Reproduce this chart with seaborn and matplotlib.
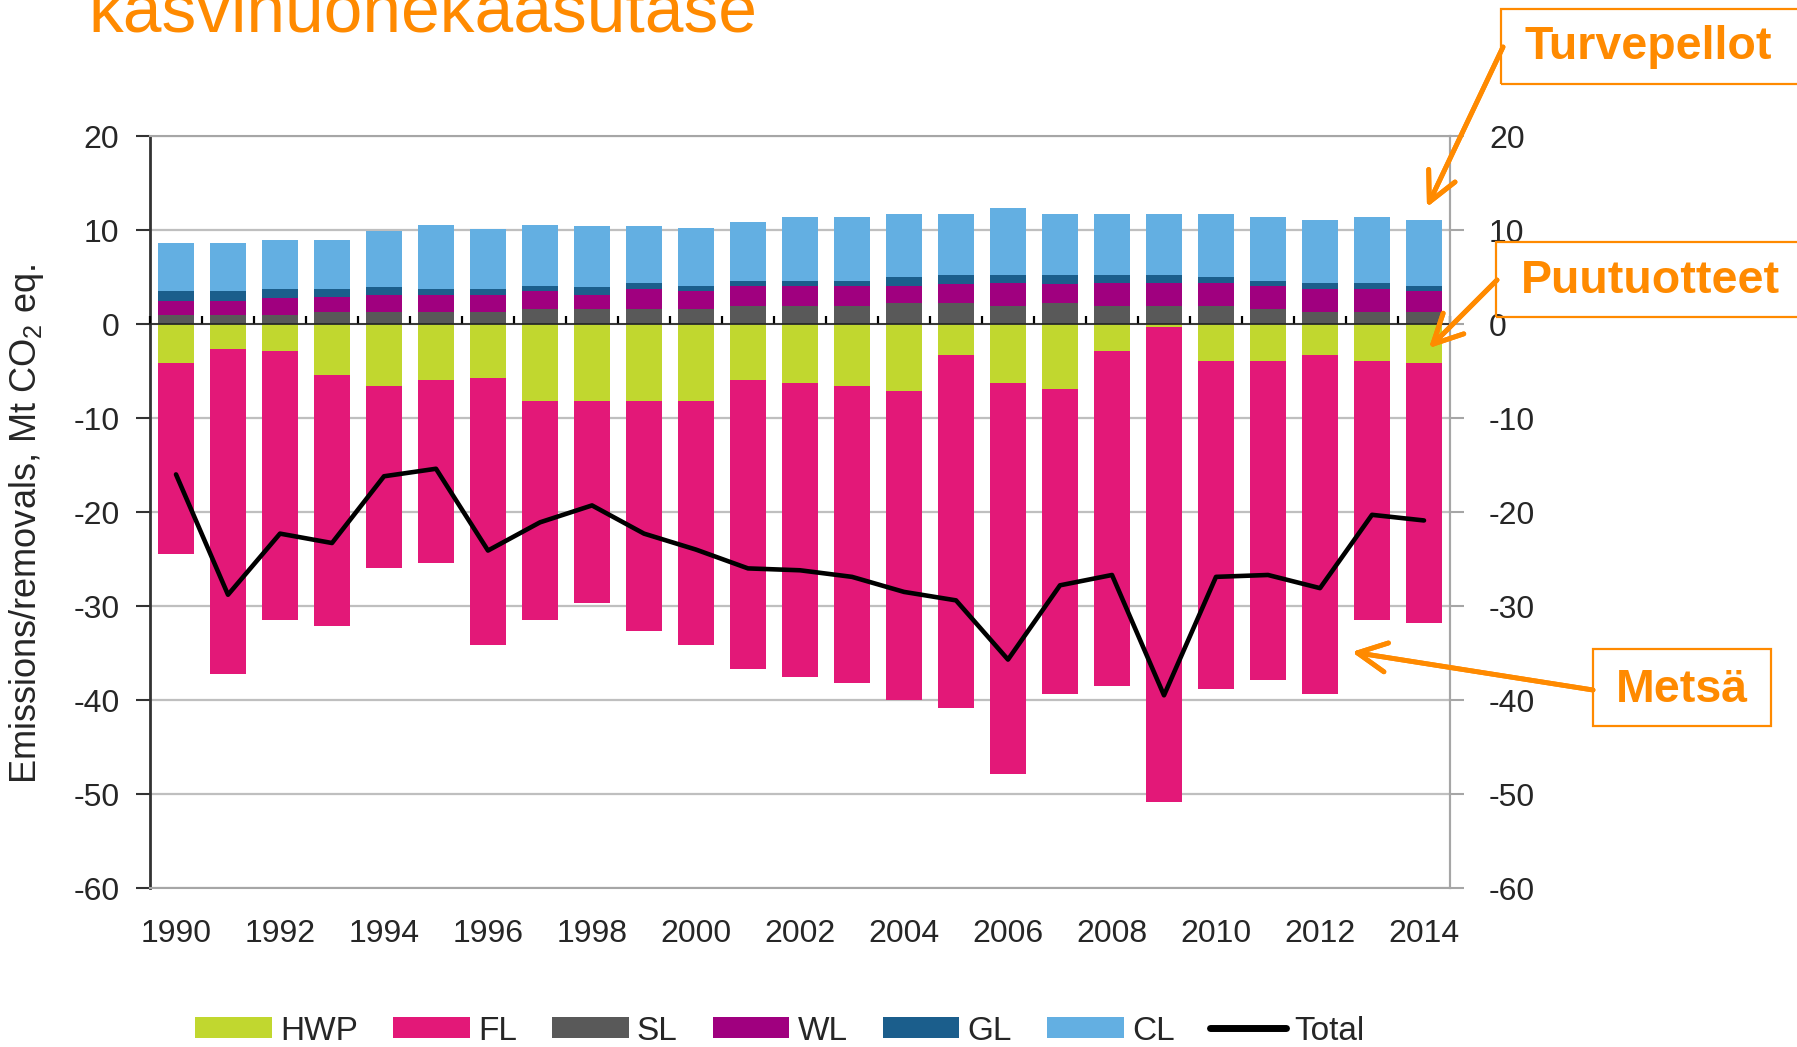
import numpy as np
import pandas as pd
import matplotlib
matplotlib.use("Agg")
import matplotlib.pyplot as plt
import seaborn as sns
from matplotlib.patches import Patch, Rectangle
from matplotlib.lines import Line2D

# ---------------- data ----------------
years = list(range(1990, 2015))
SL = [1.0, 1.0, 1.0, 1.3, 1.3, 1.3, 1.3, 1.6, 1.6, 1.6, 1.6, 1.9, 1.9, 1.9, 2.2,
      2.2, 1.9, 2.2, 1.9, 1.9, 1.9, 1.6, 1.3, 1.3, 1.3]
WL = [1.45, 1.45, 1.8, 1.55, 1.8, 1.8, 1.8, 1.9, 1.5, 2.1, 1.9, 2.1, 2.1, 2.1, 1.8,
      2.1, 2.45, 2.1, 2.45, 2.45, 2.45, 2.4, 2.4, 2.4, 2.2]
GL = [1.05, 1.05, 0.9, 0.9, 0.85, 0.6, 0.6, 0.5, 0.85, 0.65, 0.5, 0.6, 0.6, 0.6, 1.0,
      0.9, 0.9, 0.9, 0.9, 0.9, 0.6, 0.6, 0.65, 0.65, 0.5]
CL = [5.1, 5.1, 5.2, 5.2, 5.9, 6.8, 6.4, 6.5, 6.5, 6.1, 6.2, 6.2, 6.8, 6.8, 6.7,
      6.5, 7.1, 6.5, 6.5, 6.5, 6.7, 6.8, 6.7, 7.0, 7.1]
HWP = [-4.1, -2.7, -2.9, -5.4, -6.6, -6.0, -5.7, -8.2, -8.2, -8.2, -8.2, -6.0, -6.3,
       -6.6, -7.1, -3.3, -6.3, -6.9, -2.9, -0.3, -3.9, -3.9, -3.3, -3.9, -4.1]
FL = [-20.4, -34.5, -28.6, -26.7, -19.4, -19.4, -28.5, -23.3, -21.5, -24.5, -26.0,
      -30.7, -31.3, -31.6, -32.9, -37.6, -41.6, -32.5, -35.6, -50.6, -34.9, -34.0,
      -36.1, -27.6, -27.7]
Total = [-16.0, -28.8, -22.3, -23.3, -16.2, -15.4, -24.1, -21.1, -19.3, -22.3, -24.0,
         -26.0, -26.2, -26.9, -28.5, -29.4, -35.7, -27.8, -26.7, -39.5, -26.9, -26.7,
         -28.1, -20.3, -20.9]
y_ticks = [20, 10, 0, -10, -20, -30, -40, -50, -60]
series_names = ["HWP", "FL", "SL", "WL", "GL", "CL", "Total"]

colors = {
    "HWP": "#C1D72F",
    "FL": "#E31878",
    "SL": "#595959",
    "WL": "#A0007F",
    "GL": "#1B5E8C",
    "CL": "#63AFE2",
}
orange = "#FF8A00"
text_col = "#262626"

# ---------------- style ----------------
sns.set_theme(style="white")
plt.rcParams["font.family"] = ["Liberation Sans", "DejaVu Sans"]
plt.rcParams["mathtext.fontset"] = "custom"
plt.rcParams["mathtext.rm"] = "Liberation Sans"
plt.rcParams["axes.unicode_minus"] = False

W, H = 1797, 1047
fig = plt.figure(figsize=(W / 100, H / 100), dpi=100)
ax = fig.add_axes([150 / W, 1 - 888 / H, 1300 / W, 752 / H])

labels = [str(y) for y in years]
n = len(labels)
df = pd.DataFrame({"year": labels, "SL": SL, "WL": WL, "GL": GL, "CL": CL,
                   "HWP": HWP, "FL": FL, "Total": Total})

# positive stack
bottom = np.zeros(n)
for name in ["SL", "WL", "GL", "CL"]:
    sns.barplot(data=df, x="year", y=name, order=labels, bottom=bottom,
                color=colors[name], saturation=1, width=0.7, errorbar=None,
                linewidth=0, ax=ax, zorder=3)
    bottom = bottom + df[name].to_numpy()

# negative stack
bottom = np.zeros(n)
for name in ["HWP", "FL"]:
    sns.barplot(data=df, x="year", y=name, order=labels, bottom=bottom,
                color=colors[name], saturation=1, width=0.7, errorbar=None,
                linewidth=0, ax=ax, zorder=3)
    bottom = bottom + df[name].to_numpy()

df["pos"] = np.arange(n)
sns.lineplot(data=df, x="pos", y="Total", color="black", lw=3.3, ax=ax,
             sort=False, zorder=6)

ax.set_xlim(-0.5, n - 0.5)
ax.set_ylim(min(y_ticks), max(y_ticks))
ax.set_yticks(y_ticks)
ax.set_xticks(np.arange(0, n, 2))
ax.set_xticklabels(labels[::2])
ax.set_xlabel("")
ax.set_ylabel("")
ax.yaxis.grid(True, color="#BFBFBF", lw=1.6)
ax.xaxis.grid(False)
ax.set_axisbelow(True)

for s in ["top", "right", "bottom"]:
    ax.spines[s].set_color("#A6A6A6")
    ax.spines[s].set_linewidth(1.5)
ax.spines["left"].set_color("#333333")
ax.spines["left"].set_linewidth(2)

ax.tick_params(axis="y", left=True, direction="out", length=10, width=1.5,
               color="#333333", pad=12, labelsize=23, labelcolor=text_col)
ax.tick_params(axis="x", bottom=False, length=0, pad=22, labelsize=23,
               labelcolor=text_col)

# zero line with category boundary ticks
ymin, ymax = ax.get_ylim()
zero_frac = (0 - ymin) / (ymax - ymin)
sec = ax.secondary_xaxis(zero_frac)
sec.set_xticks(np.arange(n + 1) - 0.5)
sec.set_xticklabels([])
sec.tick_params(direction="out", length=6, width=1.6, color="black")
sec.spines["bottom"].set_color("black")
sec.spines["bottom"].set_linewidth(2.6)
sec.set_zorder(10)

# right axis
ax2 = ax.twinx()
ax2.set_ylim(ymin, ymax)
ax2.set_yticks(y_ticks)
for s in ["top", "left", "bottom"]:
    ax2.spines[s].set_visible(False)
ax2.spines["right"].set_color("#A6A6A6")
ax2.spines["right"].set_linewidth(1.5)
ax2.tick_params(axis="y", right=True, direction="out", length=10, width=1.5,
                color="#A6A6A6", pad=18, labelsize=23, labelcolor=text_col)
ax2.grid(False)

# y label
fig.text(27 / W, 1 - 524 / H, r"Emissions/removals, Mt CO$_{\mathrm{2}}$ eq.",
         rotation=90, ha="center", va="center", fontsize=26, color=text_col)

# title (partially cut off at the top, as in the slide)
fig.text(88 / W, 1 - 32 / H, "kasvihuonekaasutase", color=orange, fontsize=50,
         ha="left", va="baseline")

# legend
handles = [Patch(facecolor=colors[k], edgecolor="none") for k in series_names[:6]]
handles.append(Line2D([0], [0], color="black", lw=5, solid_capstyle="round"))
fig.legend(handles, series_names, loc="center", bbox_to_anchor=(780 / W, 1 - 1031 / H),
           ncol=7, frameon=False, fontsize=24, handlelength=2.3, handleheight=0.58,
           handletextpad=0.25, columnspacing=1.05, labelcolor=text_col)

# callout boxes
def box(x0, y0, x1, y1):
    fig.add_artist(Rectangle((x0 / W, 1 - y1 / H), (x1 - x0) / W, (y1 - y0) / H,
                             transform=fig.transFigure, fill=False,
                             edgecolor=orange, lw=1.6, zorder=20))

box(1501, 9, 1800, 84)
box(1496, 242, 1800, 317)
box(1593, 649, 1771, 726)

fig.text(1648 / W, 1 - 47 / H, "Turvepellot", color=orange, fontsize=33.5,
         fontweight="bold", ha="center", va="center")
fig.text(1650 / W, 1 - 281 / H, "Puutuotteet", color=orange, fontsize=33.5,
         fontweight="bold", ha="center", va="center")
fig.text(1682 / W, 1 - 690 / H, "Metsä", color=orange, fontsize=33.5,
         fontweight="bold", ha="center", va="center")

arrow_kw = dict(arrowstyle="->,head_length=0.7,head_width=0.35", lw=3.5,
                color=orange, shrinkA=0, shrinkB=0, mutation_scale=30)
for (x0, y0), (x1, y1) in [((1503, 47), (1427, 207)),
                           ((1497, 280), (1429, 348)),
                           ((1593, 690), (1352, 652))]:
    fig.add_artist(plt.annotate("", xy=(x1, H - y1), xytext=(x0, H - y0),
                                xycoords="figure pixels", textcoords="figure pixels",
                                arrowprops=arrow_kw, annotation_clip=False))

fig.savefig("out.png", dpi=100)
